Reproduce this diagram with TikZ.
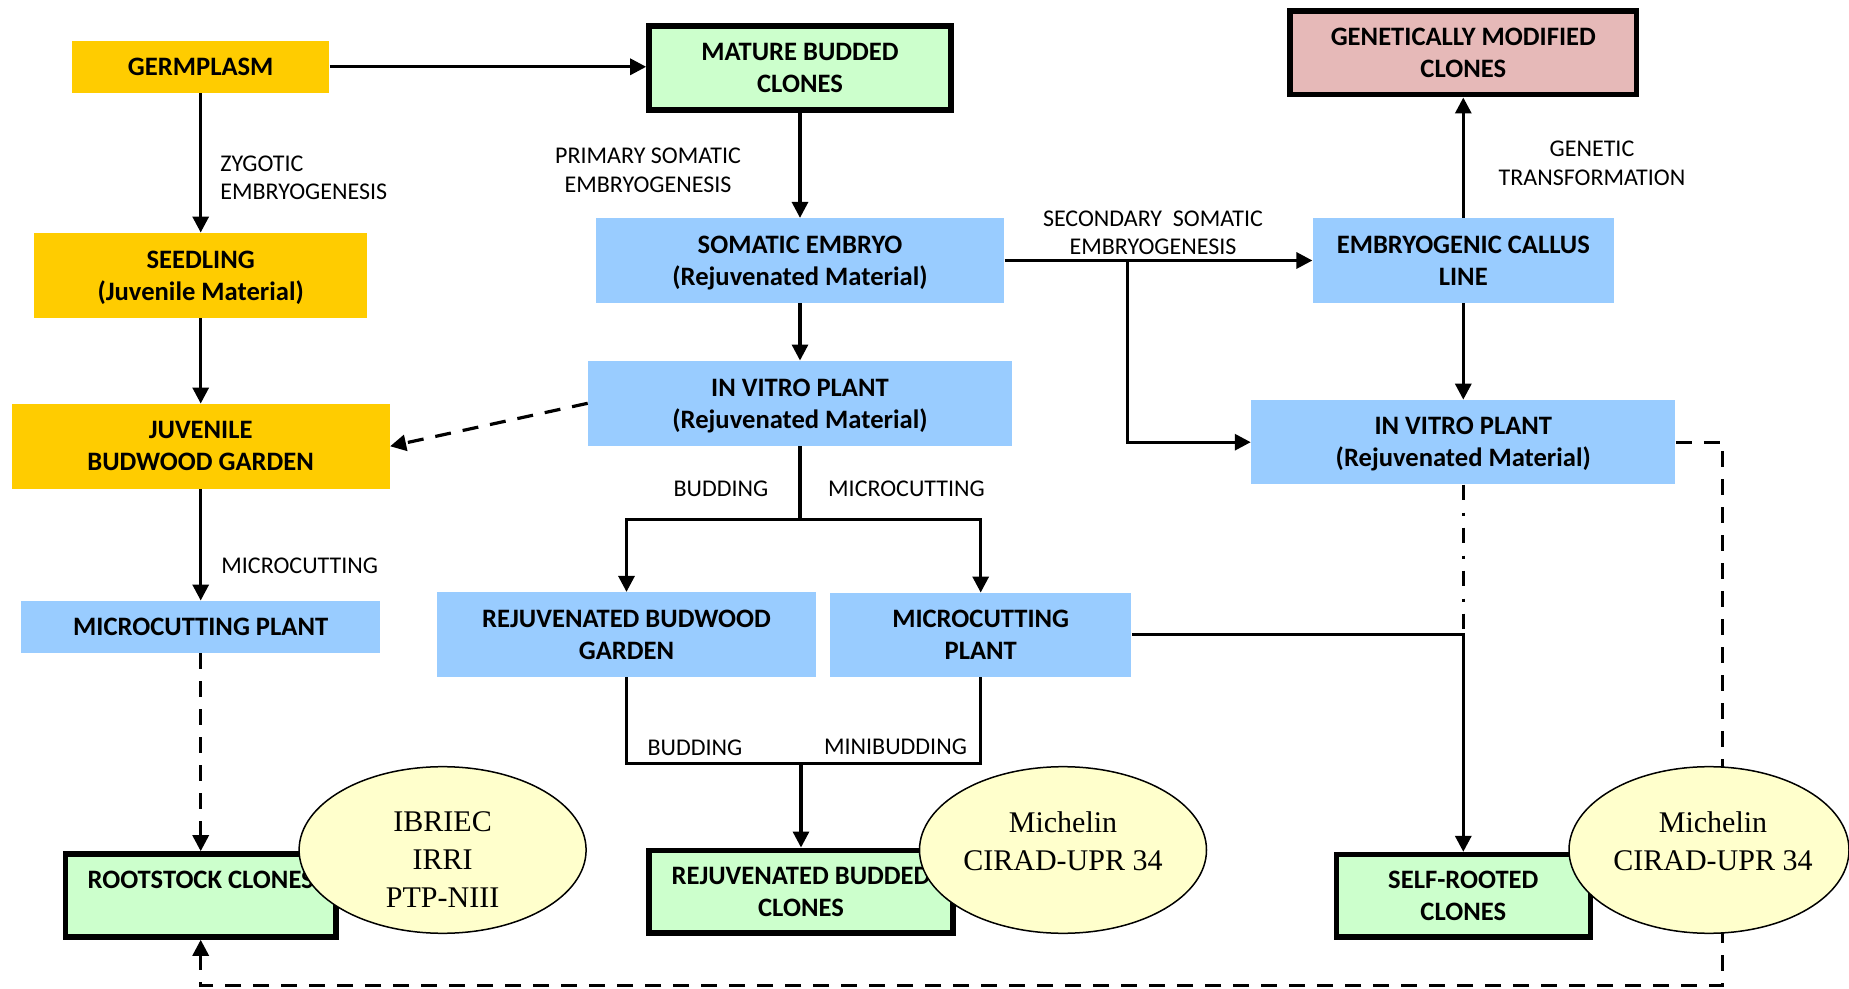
\documentclass[tikz,border=0pt]{standalone}
\usepackage{fontspec}
\setmainfont{Carlito}
\newfontfamily\tnr{Liberation Serif}
\usetikzlibrary{arrows.meta,shapes.geometric}
\definecolor{myyellow}{HTML}{FFCC00}
\definecolor{myblue}{HTML}{99CCFF}
\definecolor{mygreen}{HTML}{CCFFCC}
\definecolor{mypink}{HTML}{E6B9B8}
\definecolor{mycream}{HTML}{FFFFCC}
\tikzset{
  base/.style={inner sep=0pt, align=center, text depth=-1.6pt, font=\fontsize{13.3}{16}\selectfont\bfseries},
  ybox/.style={base, fill=myyellow},
  bbox/.style={base, fill=myblue},
  gbox/.style={base, fill=mygreen, draw=black, line width=2.8pt},
  pbox/.style={base, fill=mypink, draw=black, line width=2.8pt},
  lbl/.style={font=\fontsize{12}{14.2}\selectfont, inner sep=0pt, align=center},
  ln/.style={line width=1.6pt},
  arr/.style={line width=1.6pt, -{Triangle[length=8pt,width=8pt]}},
  dsh/.style={dash pattern=on 8pt off 6pt},
  ddot/.style={dash pattern=on 7.5pt off 6.5pt on 1.5pt off 6pt},
  ell/.style={ellipse, draw=black, line width=0.75pt, fill=mycream, inner sep=0pt},
  etxt/.style={font=\tnr\fontsize{15}{19}\selectfont, align=center, inner sep=0pt}
}
\begin{document}
\begin{tikzpicture}[x=0.5pt,y=-0.5pt]
\useasboundingbox (0,0) rectangle (1849,989);

% ---- boxes ----
\node[ybox, minimum width=128.75pt, minimum height=25.85pt] (germ) at (200.7,66.8) {GERMPLASM};
\node[ybox, minimum width=166.5pt, minimum height=42.35pt] (seed) at (200.7,275.3) {SEEDLING\\(Juvenile Material)};
\node[ybox, minimum width=189pt, minimum height=42.35pt] (juv) at (200.7,446.3) {JUVENILE\\BUDWOOD GARDEN};
\node[bbox, minimum width=179.5pt, minimum height=25.85pt] (mcp1) at (200.7,626.8) {MICROCUTTING PLANT};
\node[gbox, minimum width=135.4pt, minimum height=41.5pt] (root) at (200.7,895.5) {ROOTSTOCK CLONES\\\phantom{C}};

\node[gbox, minimum width=151pt, minimum height=42pt] (mature) at (800,68.3) {MATURE BUDDED\\CLONES};
\node[bbox, minimum width=204.2pt, minimum height=42.2pt] (somatic) at (800,260.5) {SOMATIC EMBRYO\\(Rejuvenated Material)};
\node[bbox, minimum width=211.9pt, minimum height=42.35pt] (invitro1) at (800,403.3) {IN VITRO PLANT\\(Rejuvenated Material)};
\node[bbox, minimum width=189.5pt, minimum height=42.2pt] (rbg) at (626.5,634.5) {REJUVENATED BUDWOOD\\GARDEN};
\node[bbox, minimum width=150.65pt, minimum height=41.85pt] (mcp2) at (980.7,634.8) {MICROCUTTING\\PLANT};
\node[gbox, minimum width=152pt, minimum height=41.35pt] (rbc) at (801,891.7) {REJUVENATED BUDDED\\CLONES};

\node[pbox, minimum width=173.3pt, minimum height=41.7pt] (gm) at (1463.3,53) {GENETICALLY MODIFIED\\CLONES};
\node[bbox, minimum width=150.5pt, minimum height=42.2pt] (callus) at (1463.3,260.5) {EMBRYOGENIC CALLUS\\LINE};
\node[bbox, minimum width=212.15pt, minimum height=42.15pt] (invitro2) at (1463.3,442.2) {IN VITRO PLANT\\(Rejuvenated Material)};
\node[gbox, minimum width=127pt, minimum height=41.15pt] (selfr) at (1463.3,895.8) {SELF-ROOTED\\CLONES};

% ---- labels ----
\node[lbl, anchor=west, align=left] (lzyg) at (220,178) {ZYGOTIC\\EMBRYOGENESIS};
\node[lbl, anchor=west] (lmc1) at (221,565.7) {MICROCUTTING};
\node[lbl] (lprim) at (648,170.2) {PRIMARY SOMATIC\\EMBRYOGENESIS};
\node[lbl] (lsec) at (1153,232.5) {SECONDARY\ \ SOMATIC\\EMBRYOGENESIS};
\node[lbl] (lgen) at (1592,163.3) {GENETIC\\TRANSFORMATION};
\node[lbl] (lbud1) at (721,489.3) {BUDDING};
\node[lbl] (lmc2) at (906.5,489.3) {MICROCUTTING};
\node[lbl] (lbud2) at (695,748.3) {BUDDING};
\node[lbl] (lminib) at (895.5,746.7) {MINIBUDDING};

% ---- helper coordinates ----
\coordinate (br1) at (1127.8,260.5);
\coordinate (split1) at (800,519.3);
\coordinate (join) at (801,763.3);
\coordinate (sj) at (1463.3,634.5);
\coordinate (dc) at (1722.8,985.5);

% ---- connectors ----
\draw[arr] (germ.east) -- (germ.east -| mature.west);
\draw[arr] (germ.south) -- (seed.north);
\draw[arr] (seed.south) -- (juv.north);
\draw[arr] (juv.south) -- (mcp1.north);
\draw[arr, dsh] (mcp1.south) -- (root.north);
\draw[arr] (mature.south) -- (somatic.north);
\draw[arr] (somatic.south) -- (invitro1.north);
\draw[arr, dsh] (invitro1.west) -- (juv.east);
\draw[arr] (somatic.east) -- (callus.west);
\draw[arr] (br1) |- (invitro2.west);
\draw[arr] (callus.north) -- (gm.south);
\draw[arr] (callus.south) -- (invitro2.north);
\draw[ln] (invitro1.south) -- (split1);
\draw[arr] (split1) -| (rbg.north);
\draw[arr] (split1) -| (mcp2.north);
\draw[ln] (rbg.south) -- (rbg.south |- join) -- (mcp2.south |- join) -- (mcp2.south);
\draw[arr] (join) -- (rbc.north);
\draw[arr] (mcp2.east) -| (selfr.north);
\draw[ln, ddot] (invitro2.south) -- (sj);
\draw[arr, dsh] (invitro2.east) -| (dc) -| (root.south);

% ---- ellipses ----
\node[ell, minimum width=143.5pt, minimum height=83.3pt] (e1) at (442.6,850) {};
\node[etxt] (t1) at ([yshift=-5pt]e1.center) {IBRIEC\\IRRI\\PTP-NIII};
\node[ell, minimum width=143.5pt, minimum height=83.3pt] (e2) at (1063,850) {};
\node[etxt] (t2) at (1063,840.8) {Michelin\\CIRAD-UPR 34};
\node[ell, minimum width=140pt, minimum height=83.3pt] (e3) at (1709,850) {};
\node[etxt] (t3) at (1713,840.8) {Michelin\\CIRAD-UPR 34};
\end{tikzpicture}
\end{document}
